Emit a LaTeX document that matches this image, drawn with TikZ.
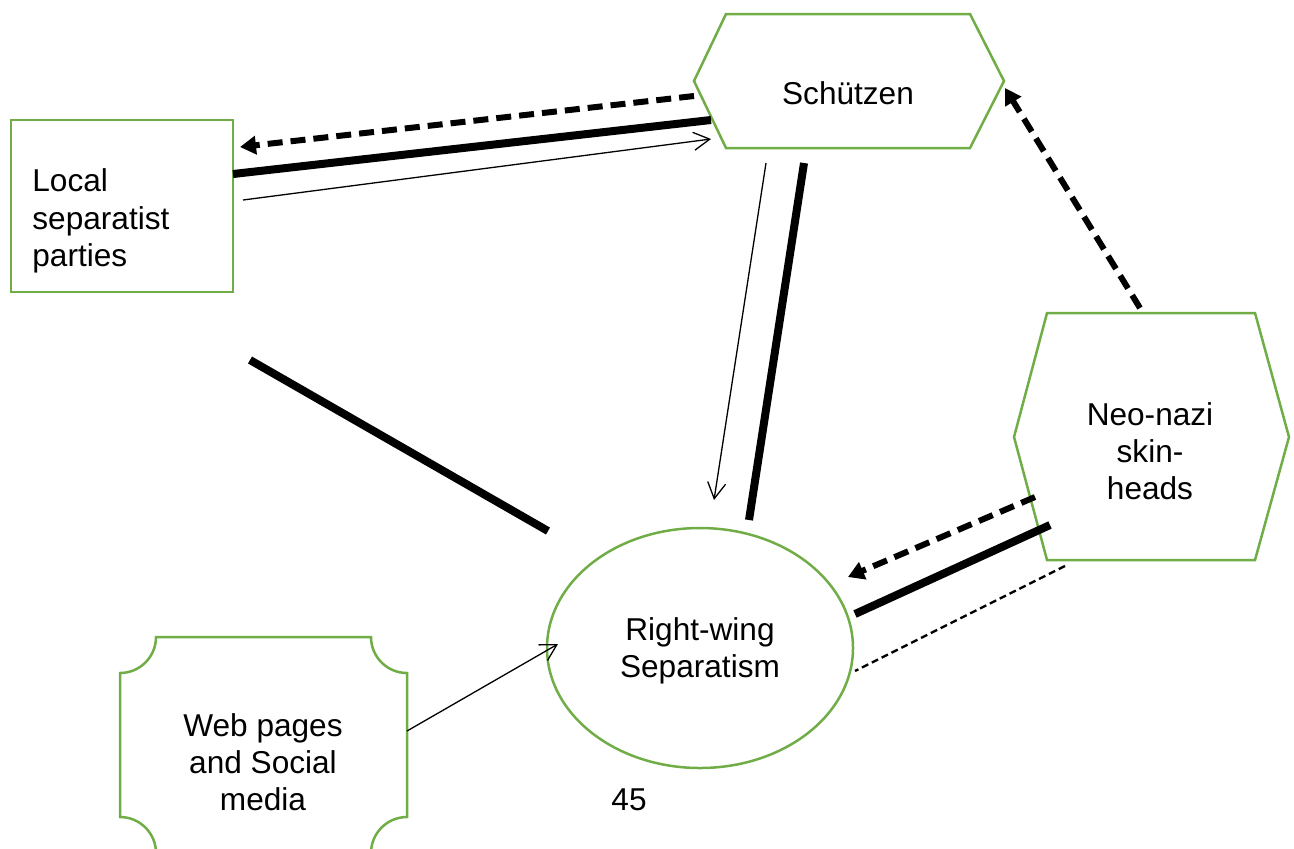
\documentclass[tikz,border=0pt]{standalone}
\usepackage{fontspec}
\setmainfont{Liberation Sans}
\usetikzlibrary{arrows.meta,shapes.geometric}
\definecolor{boxgreen}{HTML}{70AD47}
\tikzset{
  lbl/.style={font=\fontsize{15.8pt}{18.6pt}\selectfont, inner sep=0pt, align=center},
  outline/.style={draw=boxgreen, line width=1.25pt, line join=miter},
  heavy/.style={line width=4pt},
  heavydash/.style={line width=3pt, dash pattern=on 7.5pt off 4pt, -{Triangle[length=8pt,width=9pt]}},
  thinarrow/.style={line width=0.65pt, -{Straight Barb[length=8pt,width=9pt]}},
  thindash/.style={line width=1.2pt, dash pattern=on 3.5pt off 2pt},
}
\begin{document}
\begin{tikzpicture}[x=0.5pt,y=-0.5pt]
\useasboundingbox (0,0) rectangle (1294,848);
% shapes
\draw[outline] (694,81) -- (726,14) -- (970,14) -- (1004,81) -- (970,148) -- (726,148) -- cycle;
\draw[outline] (11,120) rectangle (233,292);
\draw[outline] (1014,437) -- (1047,313) -- (1255,313) -- (1289,437) -- (1255,560) -- (1047,560) -- cycle;
\draw[outline] (700,648) ellipse [x radius=76.5pt, y radius=60pt];
\draw[outline] (156,637) -- (371,637) arc[start angle=180,end angle=270,radius=18pt]
  -- (407,817) arc[start angle=90,end angle=180,radius=18pt]
  -- (156,853) arc[start angle=0,end angle=90,radius=18pt]
  -- (120,673) arc[start angle=270,end angle=360,radius=18pt] -- cycle;
% labels
\node[lbl] (sch) at (848,93) {Schützen};
\node[lbl, align=left, anchor=west] (loc) at (32,221) {Local\\separatist\\parties};
\node[lbl] (neo) at (1150,451) {Neo-nazi\\skin-\\heads};
\node[lbl] (rws) at (700,651) {Right-wing\\Separatism};
\node[lbl] (web) at (263,762) {Web pages\\and Social\\media};
\node[lbl] (pg) at (629,800) {45};
% connector end points
\coordinate (a1) at (694,96);  \coordinate (a2) at (240,147);
\coordinate (b1) at (711,120); \coordinate (b2) at (233,174);
\coordinate (c1) at (243,200); \coordinate (c2) at (711,139);
\coordinate (d1) at (766,163); \coordinate (d2) at (714,500);
\coordinate (e1) at (804,163); \coordinate (e2) at (749,520);
\coordinate (f1) at (250,360); \coordinate (f2) at (548,531);
\coordinate (g1) at (1140,308); \coordinate (g2) at (1005,88);
\coordinate (h1) at (1035,497); \coordinate (h2) at (848,577);
\coordinate (i1) at (1050,525); \coordinate (i2) at (855,614);
\coordinate (j1) at (1065,566); \coordinate (j2) at (855,671);
\coordinate (k1) at (407,731); \coordinate (k2) at (558,644);
% connectors
\draw[heavydash] (a1) -- (a2);
\draw[heavy] (b1) -- (b2);
\draw[thinarrow] (c1) -- (c2);
\draw[thinarrow] (d1) -- (d2);
\draw[heavy] (e1) -- (e2);
\draw[heavy] (f1) -- (f2);
\draw[heavydash] (g1) -- (g2);
\draw[heavydash] (h1) -- (h2);
\draw[heavy] (i1) -- (i2);
\draw[thindash] (j1) -- (j2);
\draw[thinarrow] (k1) -- (k2);
\end{tikzpicture}
\end{document}
